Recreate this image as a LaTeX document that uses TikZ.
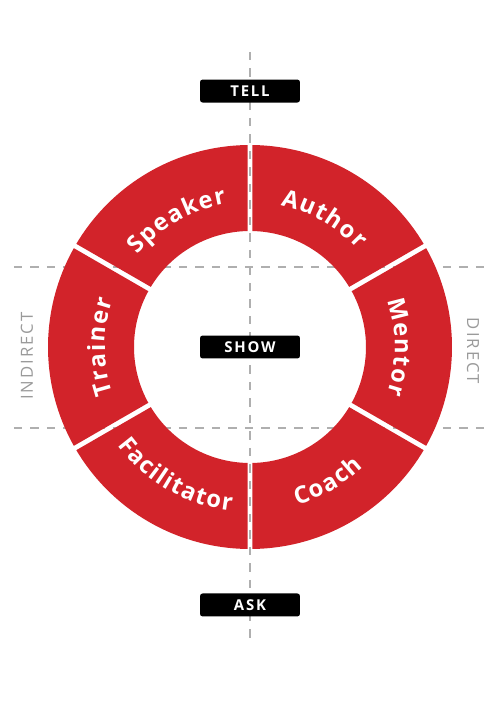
\documentclass[tikz,border=0pt]{standalone}
\usepackage{fontspec}
\setmainfont{Open Sans}
\newfontfamily\ringfont{Open Sans}
\newfontfamily\tagfont[LetterSpace=12]{Open Sans}
\usetikzlibrary{positioning,decorations.text}
\definecolor{ringred}{HTML}{D2232A}
\definecolor{dashgray}{HTML}{AFAFAF}
\definecolor{axisgray}{HTML}{9A9A9A}
\newcommand\ringtext{\ringfont\bfseries\fontsize{13.5}{15}\selectfont}
\def\rin{116}
\def\rout{202}
\def\gap{2.5}

\begin{document}
\begin{tikzpicture}[x=0.02cm,y=0.02cm,on grid,
    seg/.style={fill=ringred},
    tag/.style={fill=black,text=white,rounded corners=1.5pt,minimum width=2cm,
      minimum height=0.46cm,inner sep=0pt,font=\tagfont\bfseries\fontsize{8.5}{9}\selectfont},
    axis/.style={text=axisgray,inner sep=0pt,font=\tagfont\fontsize{9.5}{10}\selectfont},
    guide/.style={draw=dashgray,line width=0.8pt,dash pattern=on 0.17cm off 0.16cm},
    ringlabel/.style={decorate,decoration={text effects along path,text/.expanded=#1,
      text align=center,text effects/.cd,text along path,
      characters={text=white,font=\ringtext,inner xsep=0.4pt}}}]
    \useasboundingbox (-250,-360) rectangle (250,347);

    % guide lines
    \coordinate (vtop) at (0,295);
    \coordinate (vbot) at (0,-295);
    \coordinate (hul)  at (-236,80);
    \coordinate (hur)  at (236,80);
    \coordinate (hll)  at (-236,-81);
    \coordinate (hlr)  at (236,-81);
    \path[guide] (vtop) -- (vbot)
                 (hul) -- (hur)
                 (hll) -- (hlr);

    % ring
    \foreach \a/\b in {-30/30,30/90,90/150,150/210,210/270,270/330}
      \fill[seg] ({\a+asin(\gap/\rin)}:\rin) -- ({\a+asin(\gap/\rout)}:\rout)
        arc[start angle={\a+asin(\gap/\rout)},end angle={\b-asin(\gap/\rout)},radius=\rout]
        -- ({\b-asin(\gap/\rin)}:\rin)
        arc[start angle={\b-asin(\gap/\rin)},end angle={\a+asin(\gap/\rin)},radius=\rin]
        -- cycle;

    % ring labels, read clockwise on top and sides
    \foreach \a/\b/\name in {-30/30/Mentor,30/90/Author,90/150/Speaker,150/210/Trainer}
      \path[ringlabel=\name] (\b:145) arc[start angle=\b,end angle=\a,radius=145];
    % and counter-clockwise at the bottom
    \foreach \a/\b/\name in {210/270/Facilitator,270/330/Coach}
      \path[ringlabel=\name] (\a:165) arc[start angle=\a,end angle=\b,radius=165];

    \node[tag] (show) at (0,0)            {SHOW};
    \node[tag] (tell) [above=5.12cm of show] {TELL};
    \node[tag] (ask)  [below=5.16cm of show] {ASK};
    \node[axis,rotate=90]  (indirect) at (-223,-9) {INDIRECT};
    \node[axis,rotate=-90] (direct)   at (223,-4)  {DIRECT};
\end{tikzpicture}
\end{document}
